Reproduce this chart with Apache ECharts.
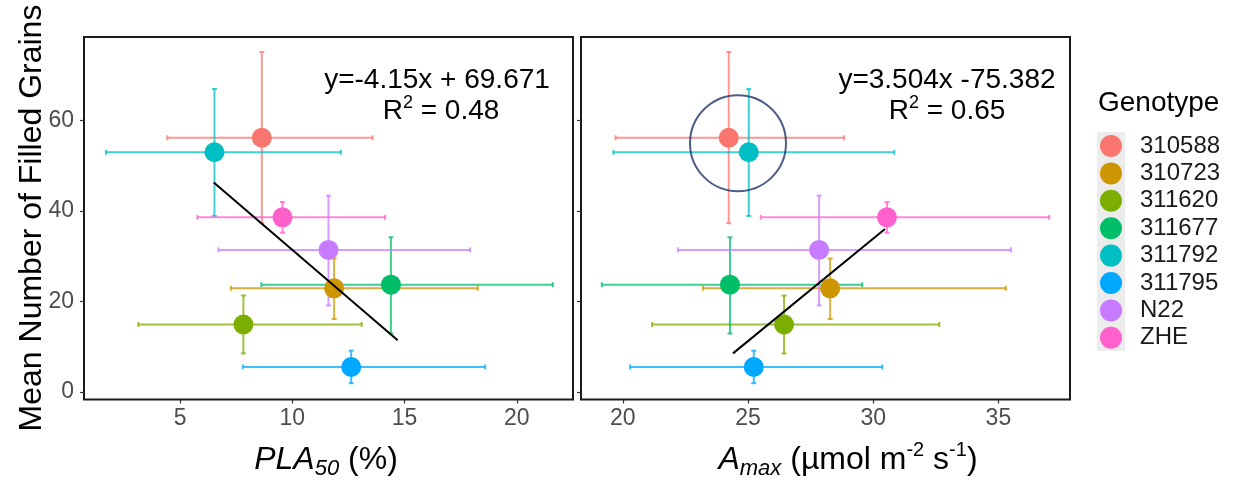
<!DOCTYPE html>
<html>
<head>
<meta charset="utf-8">
<script src="https://cdn.jsdelivr.net/npm/echarts@6/dist/echarts.min.js"></script>
<style>
  html, body { margin: 0; padding: 0; background: #fff; }
  #main { width: 1244px; height: 485px; }
</style>
</head>
<body>
<div id="main"></div>
<script>
var genotypes = ['310588', '310723', '311620', '311677', '311792', '311795', 'N22', 'ZHE'];
var colors = ['#F8766D', '#CD9600', '#7CAE00', '#00BE67', '#00BFC4', '#00A9FF', '#C77CFF', '#FF61CC'];

// mean number of filled grains with error limits
var grainMean = [56.2, 22.9, 14.9, 23.7, 53.0, 5.5, 31.4, 38.6];
var grainLow = [37.3, 16.1, 8.5, 12.9, 38.9, 1.9, 19.1, 35.2];
var grainHigh = [75.2, 29.5, 21.3, 34.2, 67.0, 9.1, 43.4, 42.0];

// PLA50 (%)
var plaMean = [8.64, 11.86, 7.82, 14.39, 6.53, 12.62, 11.61, 9.56];
var plaLow = [4.43, 7.26, 3.14, 8.62, 1.70, 7.79, 6.71, 5.77];
var plaHigh = [13.57, 18.26, 13.09, 21.60, 12.16, 18.59, 17.92, 14.13];

// Amax
var amaxMean = [24.23, 28.28, 26.44, 24.28, 25.03, 25.23, 27.84, 30.55];
var amaxLow = [19.71, 23.2, 21.17, 19.16, 19.62, 20.29, 22.2, 25.51];
var amaxHigh = [28.84, 35.3, 32.64, 29.56, 30.84, 30.36, 35.5, 37.03];

// fitted lines and highlight circle
var fitPla = [[6.5, 46.3], [14.69, 11.4]];
var fitAmax = [[24.4, 8.5], [30.47, 36.0]];
var highlight = [[24.6, 55.0]];

var yTicks = [0, 20, 40, 60];
var plaTicks = [5, 10, 15, 20];
var amaxTicks = [20, 25, 30, 35];

var FONT = '"Liberation Sans", Arial, Helvetica, sans-serif';

var chart = echarts.init(document.getElementById('main'));

function errorBars(params, api) {
  var x = api.value(0), y = api.value(1);
  var l = api.coord([api.value(2), y]);
  var r = api.coord([api.value(3), y]);
  var b = api.coord([x, api.value(4)]);
  var t = api.coord([x, api.value(5)]);
  var cap = 2.5;
  var style = { stroke: api.visual('color'), lineWidth: 2, opacity: 0.75 };
  function seg(x1, y1, x2, y2) {
    return { type: 'line', shape: { x1: x1, y1: y1, x2: x2, y2: y2 }, style: style };
  }
  return {
    type: 'group',
    children: [
      seg(l[0], l[1], r[0], r[1]),
      seg(l[0], l[1] - cap, l[0], l[1] + cap),
      seg(r[0], r[1] - cap, r[0], r[1] + cap),
      seg(t[0], t[1], b[0], b[1]),
      seg(t[0] - cap, t[1], t[0] + cap, t[1]),
      seg(b[0] - cap, b[1], b[0] + cap, b[1])
    ]
  };
}

function xAxis(idx, min, max, ticks) {
  return {
    type: 'value', gridIndex: idx, min: min, max: max,
    splitLine: { show: false },
    axisLine: { show: false, onZero: false },
    axisTick: { show: true, length: 4, lineStyle: { color: '#333', width: 1.2 }, customValues: ticks },
    axisLabel: { customValues: ticks, color: '#4d4d4d', fontSize: 23, margin: 8, fontFamily: FONT }
  };
}

function yAxis(idx, showLabel) {
  return {
    type: 'value', gridIndex: idx, min: -1.7, max: 78.5,
    splitLine: { show: false },
    axisLine: { show: false, onZero: false },
    axisTick: { show: true, length: 4, lineStyle: { color: '#333', width: 1.2 }, customValues: yTicks },
    axisLabel: { show: showLabel, customValues: yTicks, color: '#4d4d4d', fontSize: 23, margin: 10, fontFamily: FONT }
  };
}

var series = [];
var panels = [
  { mean: plaMean, low: plaLow, high: plaHigh },
  { mean: amaxMean, low: amaxLow, high: amaxHigh }
];
panels.forEach(function (p, pi) {
  genotypes.forEach(function (g, i) {
    series.push({
      type: 'custom', xAxisIndex: pi, yAxisIndex: pi, silent: true, z: 2,
      itemStyle: { color: colors[i] },
      encode: { x: [0, 2, 3], y: [1, 4, 5] },
      renderItem: errorBars,
      data: [[p.mean[i], grainMean[i], p.low[i], p.high[i], grainLow[i], grainHigh[i]]]
    });
  });
  genotypes.forEach(function (g, i) {
    series.push({
      name: g, type: 'scatter', xAxisIndex: pi, yAxisIndex: pi, z: 3,
      symbolSize: 20,
      itemStyle: { color: colors[i], opacity: 1 },
      data: [[p.mean[i], grainMean[i]]]
    });
  });
});
series.push({
  type: 'line', xAxisIndex: 0, yAxisIndex: 0, z: 5, symbol: 'none', silent: true,
  lineStyle: { color: '#000', width: 2 }, data: fitPla
});
series.push({
  type: 'line', xAxisIndex: 1, yAxisIndex: 1, z: 5, symbol: 'none', silent: true,
  lineStyle: { color: '#000', width: 2 }, data: fitAmax
});
series.push({
  type: 'scatter', xAxisIndex: 1, yAxisIndex: 1, z: 6, silent: true,
  symbolSize: 96,
  itemStyle: { color: 'rgba(0,0,0,0)', borderColor: '#1f3468', borderWidth: 2 },
  data: highlight
});

var eqRich = {
  n: { fontSize: 28, lineHeight: 34, verticalAlign: 'middle', fontFamily: FONT, color: '#000' },
  p: { fontSize: 18, lineHeight: 18, verticalAlign: 'top', fontFamily: FONT, color: '#000' }
};
var titleRich = {
  i: { fontSize: 32, lineHeight: 40, verticalAlign: 'middle', fontStyle: 'italic', fontFamily: FONT, color: '#000' },
  n: { fontSize: 32, lineHeight: 40, verticalAlign: 'middle', fontFamily: FONT, color: '#000' },
  s: { fontSize: 22, lineHeight: 22, verticalAlign: 'bottom', fontStyle: 'italic', fontFamily: FONT, color: '#000' },
  p: { fontSize: 20, lineHeight: 20, verticalAlign: 'top', fontFamily: FONT, color: '#000' }
};

function label(x, y, text, rich) {
  return { type: 'text', x: x, y: y, z: 10,
    style: { text: text, rich: rich, align: 'center', verticalAlign: 'middle' } };
}

var option = {
  backgroundColor: '#fff',
  animation: false,
  grid: [
    { left: 84, top: 37, width: 489, height: 362.5, show: true, borderColor: '#1a1a1a', borderWidth: 2 },
    { left: 581, top: 37, width: 489, height: 362.5, show: true, borderColor: '#1a1a1a', borderWidth: 2 }
  ],
  xAxis: [xAxis(0, 0.72, 22.5, plaTicks), xAxis(1, 18.33, 37.86, amaxTicks)],
  yAxis: [yAxis(0, true), yAxis(1, false)],
  legend: {
    orient: 'vertical', left: 1100, top: 134, z: 5, padding: 0,
    itemWidth: 22, itemHeight: 22, itemGap: 3.4,
    selectedMode: false,
    textStyle: { fontSize: 24, lineHeight: 24, color: '#1a1a1a', fontFamily: FONT, padding: [0, 0, 0, 13] },
    data: genotypes.map(function (g) { return { name: g, icon: 'circle' }; })
  },
  graphic: [
    { type: 'text', x: 32, y: 218, rotation: Math.PI / 2,
      style: { text: 'Mean Number of Filled Grains', fontSize: 32, fontFamily: FONT, fill: '#000', align: 'center', verticalAlign: 'middle' } },
    label(326, 460, '{i|PLA}{s|50}{n| (%)}', titleRich),
    label(848, 460, '{i|A}{s|max}{n| (µmol m}{p|-2}{n| s}{p|-1}{n|)}', titleRich),
    label(437, 80, '{n|y=-4.15x + 69.671}', eqRich),
    label(441, 111, '{n|R}{p|2}{n| = 0.48}', eqRich),
    label(947, 80, '{n|y=3.504x -75.382}', eqRich),
    label(947, 111, '{n|R}{p|2}{n| = 0.65}', eqRich),
    { type: 'text', left: 1098, top: 89,
      style: { text: 'Genotype', fontSize: 28, fontFamily: FONT, fill: '#000' } },
    { type: 'rect', left: 1097, top: 132, z: 0,
      shape: { width: 28, height: 219 }, style: { fill: '#ececec' } }
  ],
  series: series
};

if (option && typeof option === 'object') {
  chart.setOption(option);
}
</script>
</body>
</html>
